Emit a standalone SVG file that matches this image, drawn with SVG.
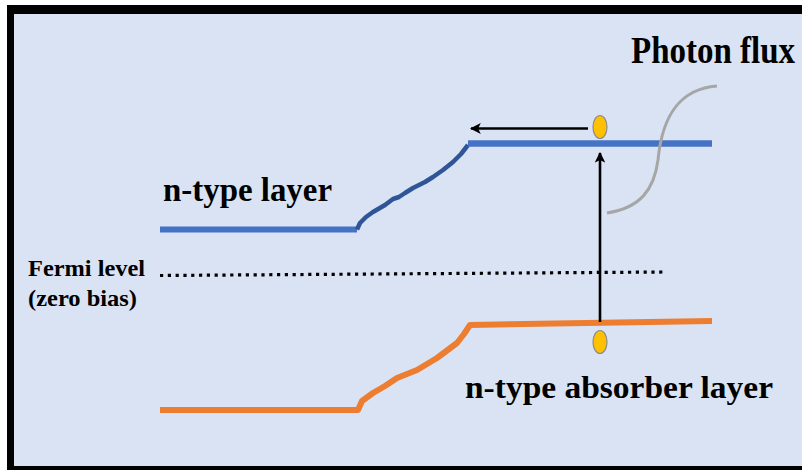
<svg xmlns="http://www.w3.org/2000/svg" width="802" height="470" viewBox="0 0 802 470">
  <style>
    .lbl { font-family: "Liberation Serif", "Times New Roman", serif; font-weight: bold; fill: #000; }
    .band { fill: none; stroke-linecap: butt; stroke-linejoin: round; }
    .carrier { fill: #FFC000; stroke: #8C8C8C; stroke-width: 1.2; }
    .flow { fill: none; stroke: #000; stroke-width: 2.6; }
  </style>
  <defs>
    <marker id="head" viewBox="0 0 10 10" refX="9" refY="5" markerWidth="4.2" markerHeight="4.2" orient="auto" markerUnits="strokeWidth">
      <path d="M0,0 L10,5 L0,10 L2.5,5 Z" fill="#000"/>
    </marker>
  </defs>

  <!-- page and frame -->
  <rect x="0" y="0" width="802" height="470" fill="#FFFFFF"/>
  <rect x="7" y="5" width="795" height="465" fill="#000000"/>
  <rect x="14" y="14" width="788" height="452" fill="#DAE3F3"/>

  <!-- conduction band (n-type layer) -->
  <g id="conduction-band">
    <path class="band" d="M160,229.5 L357,229.5" stroke="#4472C4" stroke-width="6"/>
    <path class="band" d="M357,229.5 L360,223 L366,217 L373,212 L385,205 L393,199 L399,197 L405,193 L413,188 L425,182 L433,177 L443,170 L453,162 L461,154 L468,145" stroke="#2F5597" stroke-width="4.5"/>
    <path class="band" d="M468,143.5 L712,143.5" stroke="#4472C4" stroke-width="6.5"/>
  </g>

  <!-- valence band (n-type absorber layer) -->
  <g id="valence-band">
    <path class="band" d="M160,410 L358,410 L362,401 L373,393 L385,386 L397,378 L417,370 L437,358 L457,343 L464,334 L470,325 L712,321" stroke="#ED7D31" stroke-width="6"/>
  </g>

  <!-- Fermi level -->
  <g id="fermi-level">
    <path d="M160,275.5 L665,272" fill="none" stroke="#000" stroke-width="3.2" stroke-dasharray="3.2 4.6"/>
  </g>

  <!-- photon flux curve -->
  <g id="photon-flux">
    <path d="M607,213 C640,208 654,190 658,160 C662,118 678,89 717,86" fill="none" stroke="#A6A6A6" stroke-width="3"/>
  </g>

  <!-- carriers -->
  <g id="electron">
    <ellipse class="carrier" cx="600" cy="127" rx="7" ry="11.5"/>
  </g>
  <g id="hole">
    <ellipse class="carrier" cx="600" cy="342" rx="7" ry="11.5"/>
  </g>

  <!-- transitions -->
  <g id="connectors">
    <line class="flow" x1="600" y1="322" x2="600" y2="153" marker-end="url(#head)"/>
    <line class="flow" x1="588" y1="128.5" x2="471" y2="128.5" marker-end="url(#head)"/>
  </g>

  <!-- labels -->
  <g id="labels">
    <text class="lbl" transform="translate(631,63) scale(1,1.15)" x="0" y="0" font-size="33">Photon flux</text>
    <text class="lbl" x="163" y="201" font-size="33" textLength="169" lengthAdjust="spacingAndGlyphs">n-type layer</text>
    <text class="lbl" x="465" y="398" font-size="32" textLength="308" lengthAdjust="spacingAndGlyphs">n-type absorber layer</text>
    <text class="lbl" x="28" y="276" font-size="23" textLength="117" lengthAdjust="spacingAndGlyphs">Fermi level</text>
    <text class="lbl" x="28" y="306" font-size="23" textLength="109" lengthAdjust="spacingAndGlyphs">(zero bias)</text>
  </g>
</svg>
